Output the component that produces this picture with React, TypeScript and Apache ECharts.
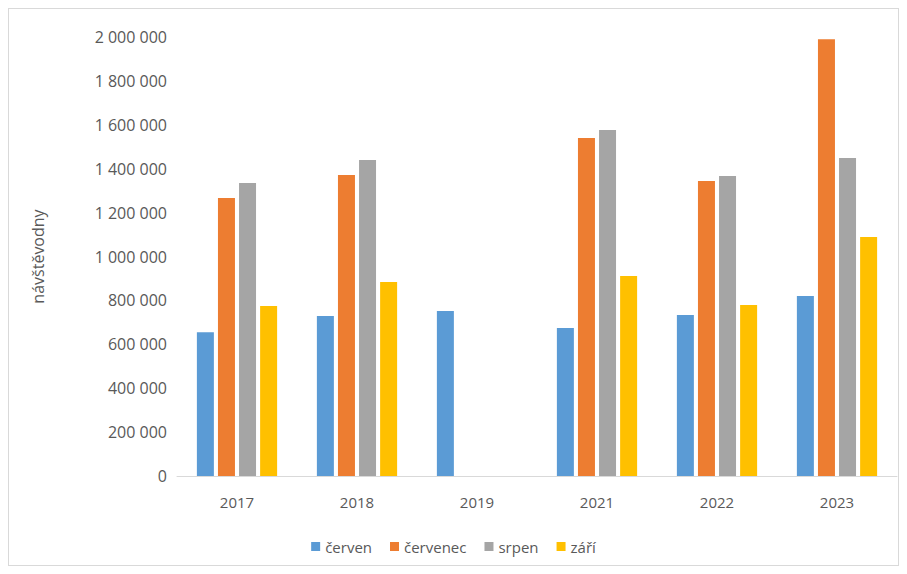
import React, { useEffect, useRef } from "react";
import * as echarts from "echarts";

const categories = ["2017", "2018", "2019", "2021", "2022", "2023"];
const cerven = [655000, 729000, 752000, 674000, 733000, 820000];
const cervenec = [1266000, 1371000, null, 1540000, 1344000, 1990000];
const srpen = [1335000, 1440000, null, 1576000, 1367000, 1449000];
const zari = [774000, 884000, null, 911000, 779000, 1089000];
const seriesNames = ["červen", "červenec", "srpen", "září"];
const colors = ["#5B9BD5", "#ED7D31", "#A5A5A5", "#FFC000"];

const fmt = (v: number) => String(v).replace(/\B(?=(\d{3})+(?!\d))/g, " ");

export default function App() {
  const ref = useRef<HTMLDivElement>(null);
  useEffect(() => {
    const chart = echarts.init(ref.current!, null, { renderer: "svg" });
    const font = "Open Sans";
    const data = [cerven, cervenec, srpen, zari];
    chart.setOption({
      animation: false,
      textStyle: { fontFamily: font, color: "#595959" },
      grid: { left: 168, right: 1, top: 28, bottom: 89 },
      legend: {
        bottom: 6,
        left: "center",
        itemWidth: 9,
        itemHeight: 9,
        icon: "rect",
        itemGap: 18,
        textStyle: { fontFamily: font, fontSize: 15, color: "#595959" },
        data: seriesNames,
      },
      xAxis: {
        type: "category",
        data: categories,
        axisTick: { show: false },
        axisLine: { lineStyle: { color: "#D9D9D9" } },
        axisLabel: { fontSize: 15, color: "#595959", margin: 18, fontFamily: font },
      },
      yAxis: {
        type: "value",
        min: 0,
        max: 2000000,
        interval: 200000,
        name: "návštěvodny",
        nameLocation: "middle",
        nameGap: 131,
        nameTextStyle: { fontSize: 16, color: "#595959", fontFamily: font },
        splitLine: { show: false },
        axisLine: { show: false },
        axisLabel: { fontSize: 16, color: "#595959", fontFamily: font, margin: 10, formatter: (v: number) => fmt(v) },
      },
      series: data.map((d, i) => ({
        name: seriesNames[i],
        type: "bar",
        data: d,
        barWidth: 17,
        barGap: "24%",
        itemStyle: { color: colors[i] },
      })),
    });
    return () => chart.dispose();
  }, []);
  return (
    <div style={{ width: 891, height: 558, border: "1px solid #D9D9D9", boxSizing: "border-box" }}>
      <div ref={ref} style={{ width: 889, height: 556 }} />
    </div>
  );
}
